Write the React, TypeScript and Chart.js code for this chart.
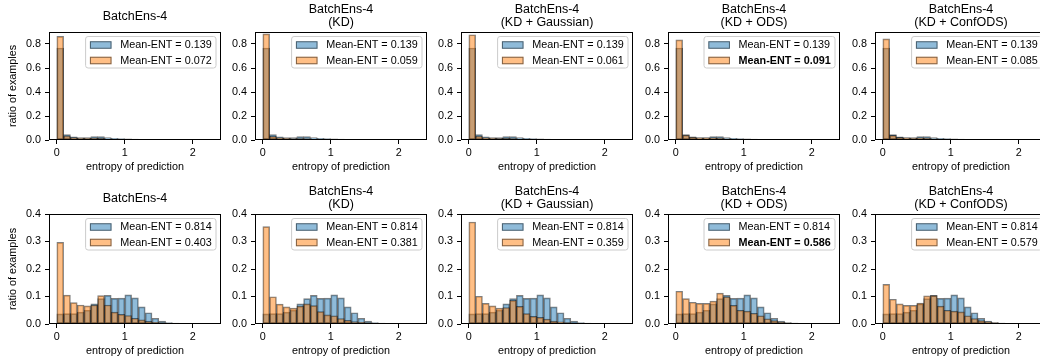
import React, { useEffect, useRef } from "react";
import { Chart, registerables } from "chart.js";

Chart.register(...registerables);

// ---------------- data ----------------
const NUM_BINS = 23;
const MAX_ENTROPY = Math.log(10);
const BIN_W = MAX_ENTROPY / NUM_BINS;
const X_MIN = -0.05 * MAX_ENTROPY;
const X_MAX = 1.05 * MAX_ENTROPY;
const BIN_CENTERS = Array.from({ length: NUM_BINS }, (_, i) => (i + 0.5) * BIN_W);
const X_TICKS = [0, 1, 2];

const PANEL_TITLES = [
  ["BatchEns-4"],
  ["BatchEns-4", "(KD)"],
  ["BatchEns-4", "(KD + Gaussian)"],
  ["BatchEns-4", "(KD + ODS)"],
  ["BatchEns-4", "(KD + ConfODS)"],
];
const BOLD_PANEL = 3;

// top row (in-distribution)
const TOP_BLUE_MEAN = "0.139";
const TOP_ORANGE_MEANS = ["0.072", "0.059", "0.061", "0.091", "0.085"];
const TOP_Y_TICKS = [0, 0.2, 0.4, 0.6, 0.8];
const TOP_BLUE = [0.767, 0.045, 0.027, 0.021, 0.021, 0.028, 0.028, 0.02, 0.014, 0.011, 0.009, 0.007, 0.005, 0.004, 0.003, 0.002, 0.001, 0.001, 0.0005, 0, 0, 0, 0];
const TOP_ORANGE_1 = [0.864, 0.034, 0.02, 0.016, 0.015, 0.016, 0.013, 0.008, 0.005, 0.003, 0.002, 0.002, 0.001, 0.001, 0.0005, 0, 0, 0, 0, 0, 0, 0, 0];
const TOP_ORANGE_2 = [0.884, 0.03, 0.018, 0.014, 0.012, 0.012, 0.01, 0.006, 0.004, 0.003, 0.002, 0.001, 0.001, 0.0005, 0, 0, 0, 0, 0, 0, 0, 0, 0];
const TOP_ORANGE_3 = [0.877, 0.032, 0.019, 0.015, 0.013, 0.013, 0.011, 0.007, 0.004, 0.003, 0.002, 0.001, 0.001, 0.0005, 0, 0, 0, 0, 0, 0, 0, 0, 0];
const TOP_ORANGE_4 = [0.835, 0.04, 0.024, 0.019, 0.018, 0.019, 0.016, 0.01, 0.007, 0.005, 0.003, 0.002, 0.001, 0.001, 0.0005, 0, 0, 0, 0, 0, 0, 0, 0];
const TOP_ORANGE_5 = [0.843, 0.038, 0.023, 0.018, 0.017, 0.018, 0.015, 0.01, 0.006, 0.004, 0.003, 0.002, 0.001, 0.001, 0.0005, 0, 0, 0, 0, 0, 0, 0, 0];

// bottom row (shifted data)
const BOTTOM_BLUE_MEAN = "0.814";
const BOTTOM_ORANGE_MEANS = ["0.403", "0.381", "0.359", "0.586", "0.579"];
const BOTTOM_Y_TICKS = [0, 0.1, 0.2, 0.3, 0.4];
const BOTTOM_BLUE = [0.037, 0.038, 0.038, 0.043, 0.05, 0.073, 0.092, 0.104, 0.093, 0.094, 0.106, 0.095, 0.062, 0.041, 0.021, 0.011, 0.005, 0.003, 0.002, 0.001, 0.001, 0.0005, 0];
const BOTTOM_ORANGE_1 = [0.297, 0.105, 0.078, 0.069, 0.066, 0.069, 0.103, 0.069, 0.043, 0.035, 0.031, 0.021, 0.015, 0.01, 0.006, 0.004, 0.002, 0.001, 0.001, 0.0005, 0, 0, 0];
const BOTTOM_ORANGE_2 = [0.354, 0.099, 0.072, 0.062, 0.058, 0.065, 0.073, 0.067, 0.045, 0.033, 0.03, 0.02, 0.013, 0.009, 0.006, 0.004, 0.002, 0.001, 0.001, 0.0005, 0, 0, 0];
const BOTTOM_ORANGE_3 = [0.371, 0.101, 0.075, 0.066, 0.058, 0.06, 0.086, 0.064, 0.038, 0.028, 0.024, 0.018, 0.011, 0.008, 0.005, 0.003, 0.002, 0.001, 0.001, 0.0005, 0, 0, 0];
const BOTTOM_ORANGE_4 = [0.119, 0.092, 0.079, 0.075, 0.075, 0.083, 0.112, 0.099, 0.068, 0.05, 0.047, 0.039, 0.03, 0.019, 0.012, 0.007, 0.004, 0.003, 0.002, 0.001, 0.0005, 0, 0];
const BOTTOM_ORANGE_5 = [0.144, 0.09, 0.073, 0.068, 0.068, 0.076, 0.102, 0.103, 0.065, 0.05, 0.047, 0.044, 0.03, 0.02, 0.012, 0.008, 0.005, 0.003, 0.002, 0.001, 0.0005, 0, 0];

const X_LABEL = "entropy of prediction";
const Y_LABEL = "ratio of examples";

// ---------------- styling / layout ----------------
const FONT = '"Liberation Sans", Arial, Helvetica, sans-serif';
const BLUE_FILL = "rgba(31,119,180,0.5)";
const ORANGE_FILL = "rgba(255,127,14,0.5)";
const EDGE = "rgba(0,0,0,0.5)";
const TICK_FS = 10.8;
const LEGEND_FS = 10.8;
const TITLE_FS = 12.5;

const AX_LEFTS = [49, 255, 461, 668, 875];
const AX_W = 172;
const AX_LEFT_IN = 49;
const PANEL_W = 240;
const PANEL_H = 181;

const ROWS = [
  {
    offset: 0, axTop: 32, axBottom: 140, yMax: 0.9, yTicks: TOP_Y_TICKS,
    blue: TOP_BLUE, blueMean: TOP_BLUE_MEAN,
    oranges: [TOP_ORANGE_1, TOP_ORANGE_2, TOP_ORANGE_3, TOP_ORANGE_4, TOP_ORANGE_5],
    orangeMeans: TOP_ORANGE_MEANS,
  },
  {
    offset: 181, axTop: 33, axBottom: 143, yMax: 0.4, yTicks: BOTTOM_Y_TICKS,
    blue: BOTTOM_BLUE, blueMean: BOTTOM_BLUE_MEAN,
    oranges: [BOTTOM_ORANGE_1, BOTTOM_ORANGE_2, BOTTOM_ORANGE_3, BOTTOM_ORANGE_4, BOTTOM_ORANGE_5],
    orangeMeans: BOTTOM_ORANGE_MEANS,
  },
];

function roundRect(ctx: CanvasRenderingContext2D, x: number, y: number, w: number, h: number, r: number) {
  ctx.beginPath();
  ctx.moveTo(x + r, y);
  ctx.lineTo(x + w - r, y);
  ctx.arcTo(x + w, y, x + w, y + r, r);
  ctx.lineTo(x + w, y + h - r);
  ctx.arcTo(x + w, y + h, x + w - r, y + h, r);
  ctx.lineTo(x + r, y + h);
  ctx.arcTo(x, y + h, x, y + h - r, r);
  ctx.lineTo(x, y + r);
  ctx.arcTo(x, y, x + r, y, r);
  ctx.closePath();
}

function makeOverlay(row: any, c: number) {
  return {
    id: "overlay" + c,
    afterDraw(chart: any) {
      const ctx: CanvasRenderingContext2D = chart.ctx;
      const a = chart.chartArea;
      ctx.save();
      // spines
      ctx.strokeStyle = "#000";
      ctx.lineWidth = 1;
      ctx.strokeRect(a.left + 0.5, a.top + 0.5, a.right - a.left - 1, a.bottom - a.top - 1);

      // legend
      const entries = [
        { fill: BLUE_FILL, text: "Mean-ENT = " + row.blueMean, bold: false },
        { fill: ORANGE_FILL, text: "Mean-ENT = " + row.orangeMeans[c], bold: c === BOLD_PANEL },
      ];
      const fs = LEGEND_FS;
      const pad = 0.4 * fs, hLen = 2 * fs, hGap = 0.8 * fs;
      let textW = 0;
      entries.forEach((e) => {
        ctx.font = (e.bold ? "bold " : "") + fs + "px " + FONT;
        textW = Math.max(textW, ctx.measureText(e.text).width);
      });
      const boxW = pad + hLen + hGap + textW + pad;
      const boxH = 31.5;
      const right = a.right - 5;
      const top = a.top + 4.5;
      const left = right - boxW;
      roundRect(ctx, left, top, boxW, boxH, 2.5);
      ctx.fillStyle = "rgba(255,255,255,0.8)";
      ctx.fill();
      ctx.strokeStyle = "rgb(204,204,204)";
      ctx.stroke();
      entries.forEach((e, i) => {
        const cy = top + 8.5 + i * 15.5;
        ctx.fillStyle = e.fill;
        ctx.fillRect(left + pad, cy - 3.75, hLen, 7.5);
        ctx.strokeStyle = EDGE;
        ctx.strokeRect(left + pad + 0.5, cy - 3.75 + 0.5, hLen - 1, 7.5 - 1);
        ctx.fillStyle = "#000";
        ctx.font = (e.bold ? "bold " : "") + fs + "px " + FONT;
        ctx.textAlign = "left";
        ctx.textBaseline = "middle";
        ctx.fillText(e.text, left + pad + hLen + hGap, cy + 0.5);
      });

      // title
      const cx = (a.left + a.right) / 2;
      ctx.fillStyle = "#000";
      ctx.font = TITLE_FS + "px " + FONT;
      ctx.textAlign = "center";
      ctx.textBaseline = "middle";
      const lines = PANEL_TITLES[c];
      if (lines.length === 1) {
        ctx.fillText(lines[0], cx, a.top - 15);
      } else {
        ctx.fillText(lines[0], cx, a.top - 22);
        ctx.fillText(lines[1], cx, a.top - 9);
      }

      // x label
      ctx.font = TICK_FS + "px " + FONT;
      ctx.fillText(X_LABEL, cx, a.bottom + 27.5);

      // y label
      if (c === 0) {
        ctx.translate(13.5, (a.top + a.bottom) / 2);
        ctx.rotate(-Math.PI / 2);
        ctx.fillText(Y_LABEL, 0, 0);
      }
      ctx.restore();
    },
  };
}

function makeConfig(row: any, c: number): any {
  const orange = row.oranges[c];
  const common = {
    borderColor: EDGE,
    borderWidth: 1,
    borderSkipped: false,
    grouped: false,
    barPercentage: 1,
    categoryPercentage: 1,
  };
  const xh = PANEL_H - row.axBottom;
  return {
    type: "bar",
    data: {
      datasets: [
        {
          ...common,
          label: "Mean-ENT = " + row.blueMean,
          data: BIN_CENTERS.map((x, i) => ({ x, y: row.blue[i] })),
          backgroundColor: BLUE_FILL,
          order: 2,
        },
        {
          ...common,
          label: "Mean-ENT = " + row.orangeMeans[c],
          data: BIN_CENTERS.map((x, i) => ({ x, y: orange[i] })),
          backgroundColor: ORANGE_FILL,
          order: 1,
        },
      ],
    },
    options: {
      animation: false,
      responsive: false,
      devicePixelRatio: 1,
      events: [],
      layout: { padding: { top: row.axTop, right: PANEL_W - AX_LEFT_IN - AX_W, bottom: 0, left: 0 } },
      plugins: { legend: { display: false }, title: { display: false }, tooltip: { enabled: false } },
      scales: {
        x: {
          type: "linear",
          offset: false,
          min: X_MIN,
          max: X_MAX,
          afterBuildTicks: (s: any) => { s.ticks = X_TICKS.map((v) => ({ value: v })); },
          afterFit: (s: any) => { s.height = xh; },
          ticks: {
            font: { family: FONT, size: TICK_FS },
            color: "#000",
            padding: 2.5,
            maxRotation: 0,
            autoSkip: false,
            callback: (v: number) => String(v),
          },
          grid: { display: true, offset: false, drawOnChartArea: false, drawTicks: true, tickLength: 4, color: "#000", lineWidth: 1 },
          border: { display: false },
        },
        y: {
          type: "linear",
          min: 0,
          max: row.yMax,
          afterBuildTicks: (s: any) => { s.ticks = row.yTicks.map((v: number) => ({ value: v })); },
          afterFit: (s: any) => { s.width = AX_LEFT_IN; },
          ticks: {
            font: { family: FONT, size: TICK_FS },
            color: "#000",
            padding: 4,
            autoSkip: false,
            callback: (v: number) => v.toFixed(1),
          },
          grid: { display: true, drawOnChartArea: false, drawTicks: true, tickLength: 4, color: "#000", lineWidth: 1 },
          border: { display: false },
        },
      },
    },
    plugins: [makeOverlay(row, c)],
  };
}

export default function App() {
  const refs = useRef<(HTMLCanvasElement | null)[]>([]);
  useEffect(() => {
    const charts: Chart[] = [];
    ROWS.forEach((row, r) => {
      for (let c = 0; c < 5; c++) {
        const canvas = refs.current[r * 5 + c];
        if (!canvas) continue;
        charts.push(new Chart(canvas, makeConfig(row, c)));
      }
    });
    return () => charts.forEach((ch) => ch.destroy());
  }, []);
  return (
    <div
      style={{
        position: "fixed",
        left: 0,
        top: 0,
        width: 1040,
        height: 362,
        overflow: "hidden",
        background: "#fff",
      }}
    >
      {ROWS.map((row, r) =>
        AX_LEFTS.map((ax, c) => (
          <canvas
            key={r + "-" + c}
            ref={(el) => { refs.current[r * 5 + c] = el; }}
            width={PANEL_W}
            height={PANEL_H}
            style={{ position: "absolute", left: ax - AX_LEFT_IN, top: row.offset, width: PANEL_W, height: PANEL_H }}
          />
        ))
      )}
    </div>
  );
}
